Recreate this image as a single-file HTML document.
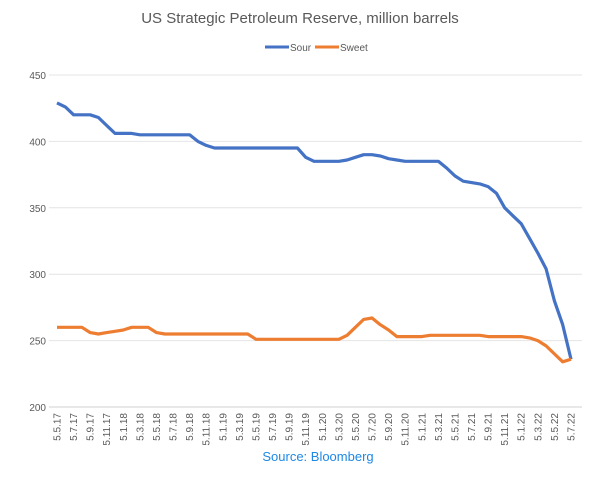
<!DOCTYPE html>
<html><head><meta charset="utf-8">
<style>
html,body{margin:0;padding:0;background:#fff;}
svg text{font-family:"Liberation Sans",sans-serif;}
</style></head>
<body>
<svg id="chart" width="602" height="475" xmlns="http://www.w3.org/2000/svg">
<text x="300" y="23" text-anchor="middle" font-size="15" fill="#595959">US Strategic Petroleum Reserve, million barrels</text>
<g>
<line x1="265" y1="47" x2="289" y2="47" stroke="#4472C4" stroke-width="3"/>
<text x="290" y="51" font-size="10" fill="#595959">Sour</text>
<line x1="315" y1="47" x2="339" y2="47" stroke="#ED7D31" stroke-width="3"/>
<text x="340" y="51" font-size="10" fill="#595959">Sweet</text>
</g>
<g id="grid"></g><g id="xlabels"></g><g id="series"></g>
<text x="318" y="461" text-anchor="middle" font-size="13" fill="#1E88E5">Source: Bloomberg</text>
</svg>
<script>
const yTicks=[200,250,300,350,400,450];
const xLabels=["5.5.17","5.7.17","5.9.17","5.11.17","5.1.18","5.3.18","5.5.18","5.7.18","5.9.18","5.11.18","5.1.19","5.3.19","5.5.19","5.7.19","5.9.19","5.11.19","5.1.20","5.3.20","5.5.20","5.7.20","5.9.20","5.11.20","5.1.21","5.3.21","5.5.21","5.7.21","5.9.21","5.11.21","5.1.22","5.3.22","5.5.22","5.7.22"];
const sour=[429,426,420,420,420,418,412,406,406,406,405,405,405,405,405,405,405,400,397,395,395,395,395,395,395,395,395,395,395,395,388,385,385,385,385,386,388,390,390,389,387,386,385,385,385,385,385,380,374,370,369,368,366,361,350,344,338,327,316,304,280,262,236];
const sweet=[260,260,260,260,256,255,256,257,258,260,260,260,256,255,255,255,255,255,255,255,255,255,255,255,251,251,251,251,251,251,251,251,251,251,251,254,260,266,267,262,258,253,253,253,253,254,254,254,254,254,254,254,253,253,253,253,253,252,250,246,240,234,236];
const NS="http://www.w3.org/2000/svg";
const x0=57, dxm=8.29, left=49, right=582;
const xS=i=>x0+i*dxm;
const yS=v=>407-(v-200)*(332/250);
const grid=document.getElementById('grid');
yTicks.forEach(t=>{
 const l=document.createElementNS(NS,'line');
 
 
 l.setAttribute('x1',left);l.setAttribute('x2',right);
 l.setAttribute('y1',yS(t));l.setAttribute('y2',yS(t));
 l.setAttribute('stroke',t===200?'#d0d0d0':'#e4e4e4');l.setAttribute('stroke-width','1');
 grid.appendChild(l);
 const tx=document.createElementNS(NS,'text');
 
 
 tx.setAttribute('x',left-3);tx.setAttribute('y',yS(t)+4);
 tx.setAttribute('text-anchor','end');tx.setAttribute('font-size','10');tx.setAttribute('fill','#595959');
 tx.textContent=t;grid.appendChild(tx);
});
const xl=document.getElementById('xlabels');
xLabels.forEach((s,k)=>{
 const x=xS(k*2);
 const tx=document.createElementNS(NS,'text');
 
 
 tx.setAttribute('transform','translate('+(x+3.5)+',413) rotate(-90)');
 tx.setAttribute('text-anchor','end');tx.setAttribute('font-size','10');tx.setAttribute('fill','#595959');
 tx.textContent=s;xl.appendChild(tx);
});
const ser=document.getElementById('series');
function line(arr,color,name){
 const p=document.createElementNS(NS,'polyline');
 
 
 p.setAttribute('points',arr.map((v,i)=>xS(i).toFixed(1)+','+yS(v).toFixed(1)).join(' '));
 p.setAttribute('fill','none');p.setAttribute('stroke',color);p.setAttribute('stroke-width','3.2');
 p.setAttribute('stroke-linejoin','round');
 ser.appendChild(p);
}
line(sour,'#4472C4','sour-line');
line(sweet,'#ED7D31','sweet-line');
</script>
</body></html>
